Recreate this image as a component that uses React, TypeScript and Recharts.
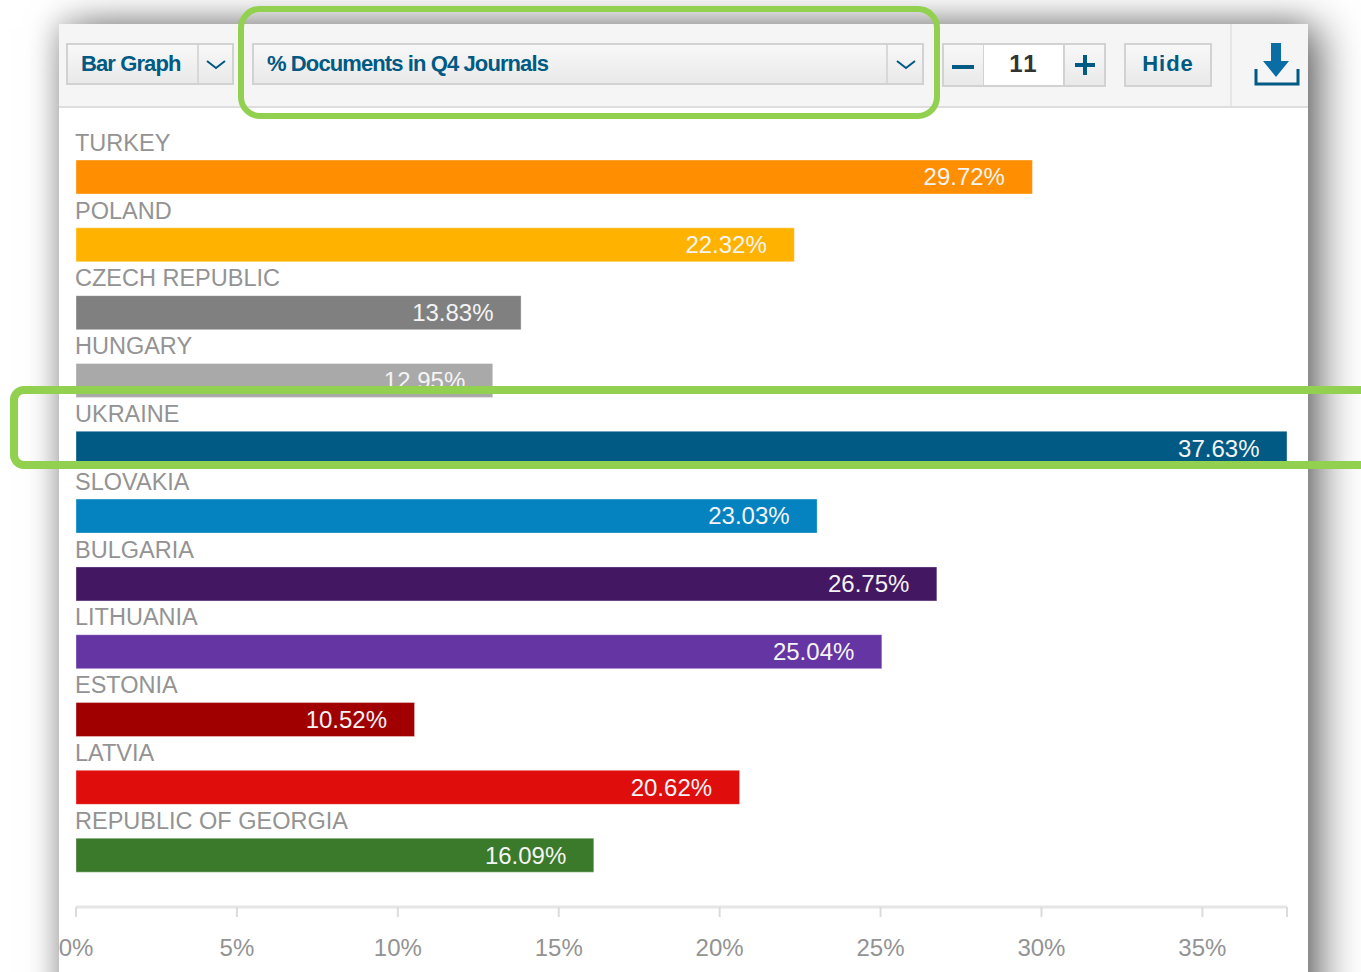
import { BarChart, Bar, Cell, XAxis, YAxis, LabelList } from "recharts";

const countries = [
  "TURKEY",
  "POLAND",
  "CZECH REPUBLIC",
  "HUNGARY",
  "UKRAINE",
  "SLOVAKIA",
  "BULGARIA",
  "LITHUANIA",
  "ESTONIA",
  "LATVIA",
  "REPUBLIC OF GEORGIA",
];
const shares = [29.72, 22.32, 13.83, 12.95, 37.63, 23.03, 26.75, 25.04, 10.52, 20.62, 16.09];
const barColors = [
  "#FF8F00",
  "#FFB300",
  "#808080",
  "#A9A9A9",
  "#005A84",
  "#0483C0",
  "#441763",
  "#6435A3",
  "#A10000",
  "#E00D0D",
  "#3A7A2A",
];
const axisTicks = [0, 5, 10, 15, 20, 25, 30, 35, 37.63];
const tickLabels = ["0%", "5%", "10%", "15%", "20%", "25%", "30%", "35%", ""];

const chartData = countries.map((name, i) => ({ name, share: shares[i] }));

const FONT = "'Liberation Sans', Arial, sans-serif";
const BLUE = "#005A84";
const GREEN = "#92D050";

// eslint-disable-next-line @typescript-eslint/no-explicit-any
const renderCountry = (props: any) => {
  const { x, y, value } = props;
  return (
    <text x={x - 1} y={y - 15.5} fill="#939393" fontSize={23.5} fontFamily={FONT} dominantBaseline="middle">
      {value}
    </text>
  );
};

// eslint-disable-next-line @typescript-eslint/no-explicit-any
const renderShare = (props: any) => {
  const { x, y, width, height, value } = props;
  return (
    <text
      x={x + width - 27.5}
      y={y + height / 2 + 2}
      fill="#f4f4f4"
      fontSize={24}
      fontFamily={FONT}
      textAnchor="end"
      dominantBaseline="middle"
    >
      {value.toFixed(2)}%
    </text>
  );
};

const buttonStyle: React.CSSProperties = {
  position: "absolute",
  boxSizing: "border-box",
  top: 43,
  height: 42,
  border: "2px solid #d2d2d2",
  background: "linear-gradient(#f8f8f8, #e9e9e9)",
  color: BLUE,
  fontFamily: FONT,
  fontWeight: "bold",
  fontSize: 22,
  lineHeight: "38px",
  letterSpacing: -0.9,
};

function Chevron({ x }: { x: number }) {
  return (
    <svg style={{ position: "absolute", left: x, top: 58, width: 22, height: 14 }}>
      <path d="M2 3 L11 10 L20 3" fill="none" stroke={BLUE} strokeWidth={2} />
    </svg>
  );
}

function Toolbar() {
  return (
    <>
      <div
        style={{
          position: "absolute",
          left: 59,
          top: 24,
          width: 1249,
          height: 82,
          background: "#f5f5f5",
          borderBottom: "2px solid #dedede",
        }}
      />
      <div style={{ ...buttonStyle, left: 66, width: 168, paddingLeft: 13 }}>Bar Graph</div>
      <div style={{ position: "absolute", left: 197, top: 45, width: 2, height: 38, background: "#d8d8d8" }} />
      <Chevron x={205} />
      <div style={{ ...buttonStyle, left: 252, width: 672, paddingLeft: 13 }}>% Documents in Q4 Journals</div>
      <div style={{ position: "absolute", left: 886, top: 45, width: 2, height: 38, background: "#d8d8d8" }} />
      <Chevron x={895} />
      <div style={{ ...buttonStyle, left: 942, width: 43, height: 44 }} />
      <div style={{ position: "absolute", left: 952, top: 65, width: 22, height: 4, background: BLUE }} />
      <div
        style={{
          ...buttonStyle,
          left: 984,
          width: 80,
          height: 44,
          background: "#ffffff",
          borderLeft: "none",
          borderRight: "none",
          color: "#333333",
          textAlign: "center",
          fontSize: 24,
          letterSpacing: 2,
        }}
      >
        11
      </div>
      <div style={{ ...buttonStyle, left: 1063, width: 43, height: 44 }} />
      <div style={{ position: "absolute", left: 1075, top: 63, width: 20, height: 4, background: BLUE }} />
      <div style={{ position: "absolute", left: 1083, top: 55, width: 4, height: 20, background: BLUE }} />
      <div style={{ ...buttonStyle, left: 1124, width: 88, height: 44, textAlign: "center", letterSpacing: 1 }}>Hide</div>
      <div style={{ position: "absolute", left: 1230, top: 24, width: 2, height: 82, background: "#e6e6e6" }} />
      <svg style={{ position: "absolute", left: 1252, top: 40, width: 50, height: 50 }}>
        <path d="M10 3 H20 V21 H28 L15 37 L2 21 H10 Z" transform="translate(9 0)" fill="#0A6EA5" />
        <path d="M4 29 V44 H46 V29" fill="none" stroke={BLUE} strokeWidth={3} />
      </svg>
    </>
  );
}

export default function App() {
  return (
    <div style={{ position: "fixed", left: 0, top: 0, width: 1361, height: 972, overflow: "hidden", background: "#fff" }}>
      <div
        style={{
          position: "absolute",
          left: 59,
          top: 24,
          width: 1249,
          height: 1000,
          background: "#fff",
          boxShadow: "12px 4px 40px rgba(0,0,0,0.6), -4px -3px 24px rgba(0,0,0,0.14)",
        }}
      />
      <Toolbar />
      <div style={{ position: "absolute", left: 0, top: 0 }}>
        <BarChart
          width={1361}
          height={972}
          layout="vertical"
          data={chartData}
          margin={{ top: 143, right: 74, bottom: 0, left: 76 }}
          style={{ overflow: "hidden" }}
        >
          <XAxis
            type="number"
            domain={[0, 37.63]}
            ticks={axisTicks}
            interval={0}
            height={65}
            tickSize={10}
            tickMargin={22}
            axisLine={{ stroke: "#e6e6e6", strokeWidth: 3 }}
            tickLine={{ stroke: "#dcdcdc", strokeWidth: 2 }}
            tick={{ fill: "#939393", fontSize: 24, fontFamily: FONT }}
            tickFormatter={(_v: number, i: number) => tickLabels[i]}
          />
          <YAxis type="category" dataKey="name" hide padding={{ top: 0, bottom: 18 }} />
          <Bar
            dataKey="share"
            barSize={34}
            isAnimationActive={false}
            stroke="rgba(255,255,255,0.35)"
            strokeWidth={1}
          >
            {chartData.map((d, i) => (
              <Cell key={d.name} fill={barColors[i]} />
            ))}
            <LabelList dataKey="name" content={renderCountry} />
            <LabelList dataKey="share" content={renderShare} />
          </Bar>
        </BarChart>
      </div>
      <div
        style={{
          position: "absolute",
          left: 238,
          top: 6,
          width: 702,
          height: 113,
          boxSizing: "border-box",
          border: `6px solid ${GREEN}`,
          borderRadius: 22,
        }}
      />
      <div
        style={{
          position: "absolute",
          left: 10,
          top: 386,
          width: 1400,
          height: 83,
          boxSizing: "border-box",
          border: `8px solid ${GREEN}`,
          borderRadius: 14,
        }}
      />
    </div>
  );
}
